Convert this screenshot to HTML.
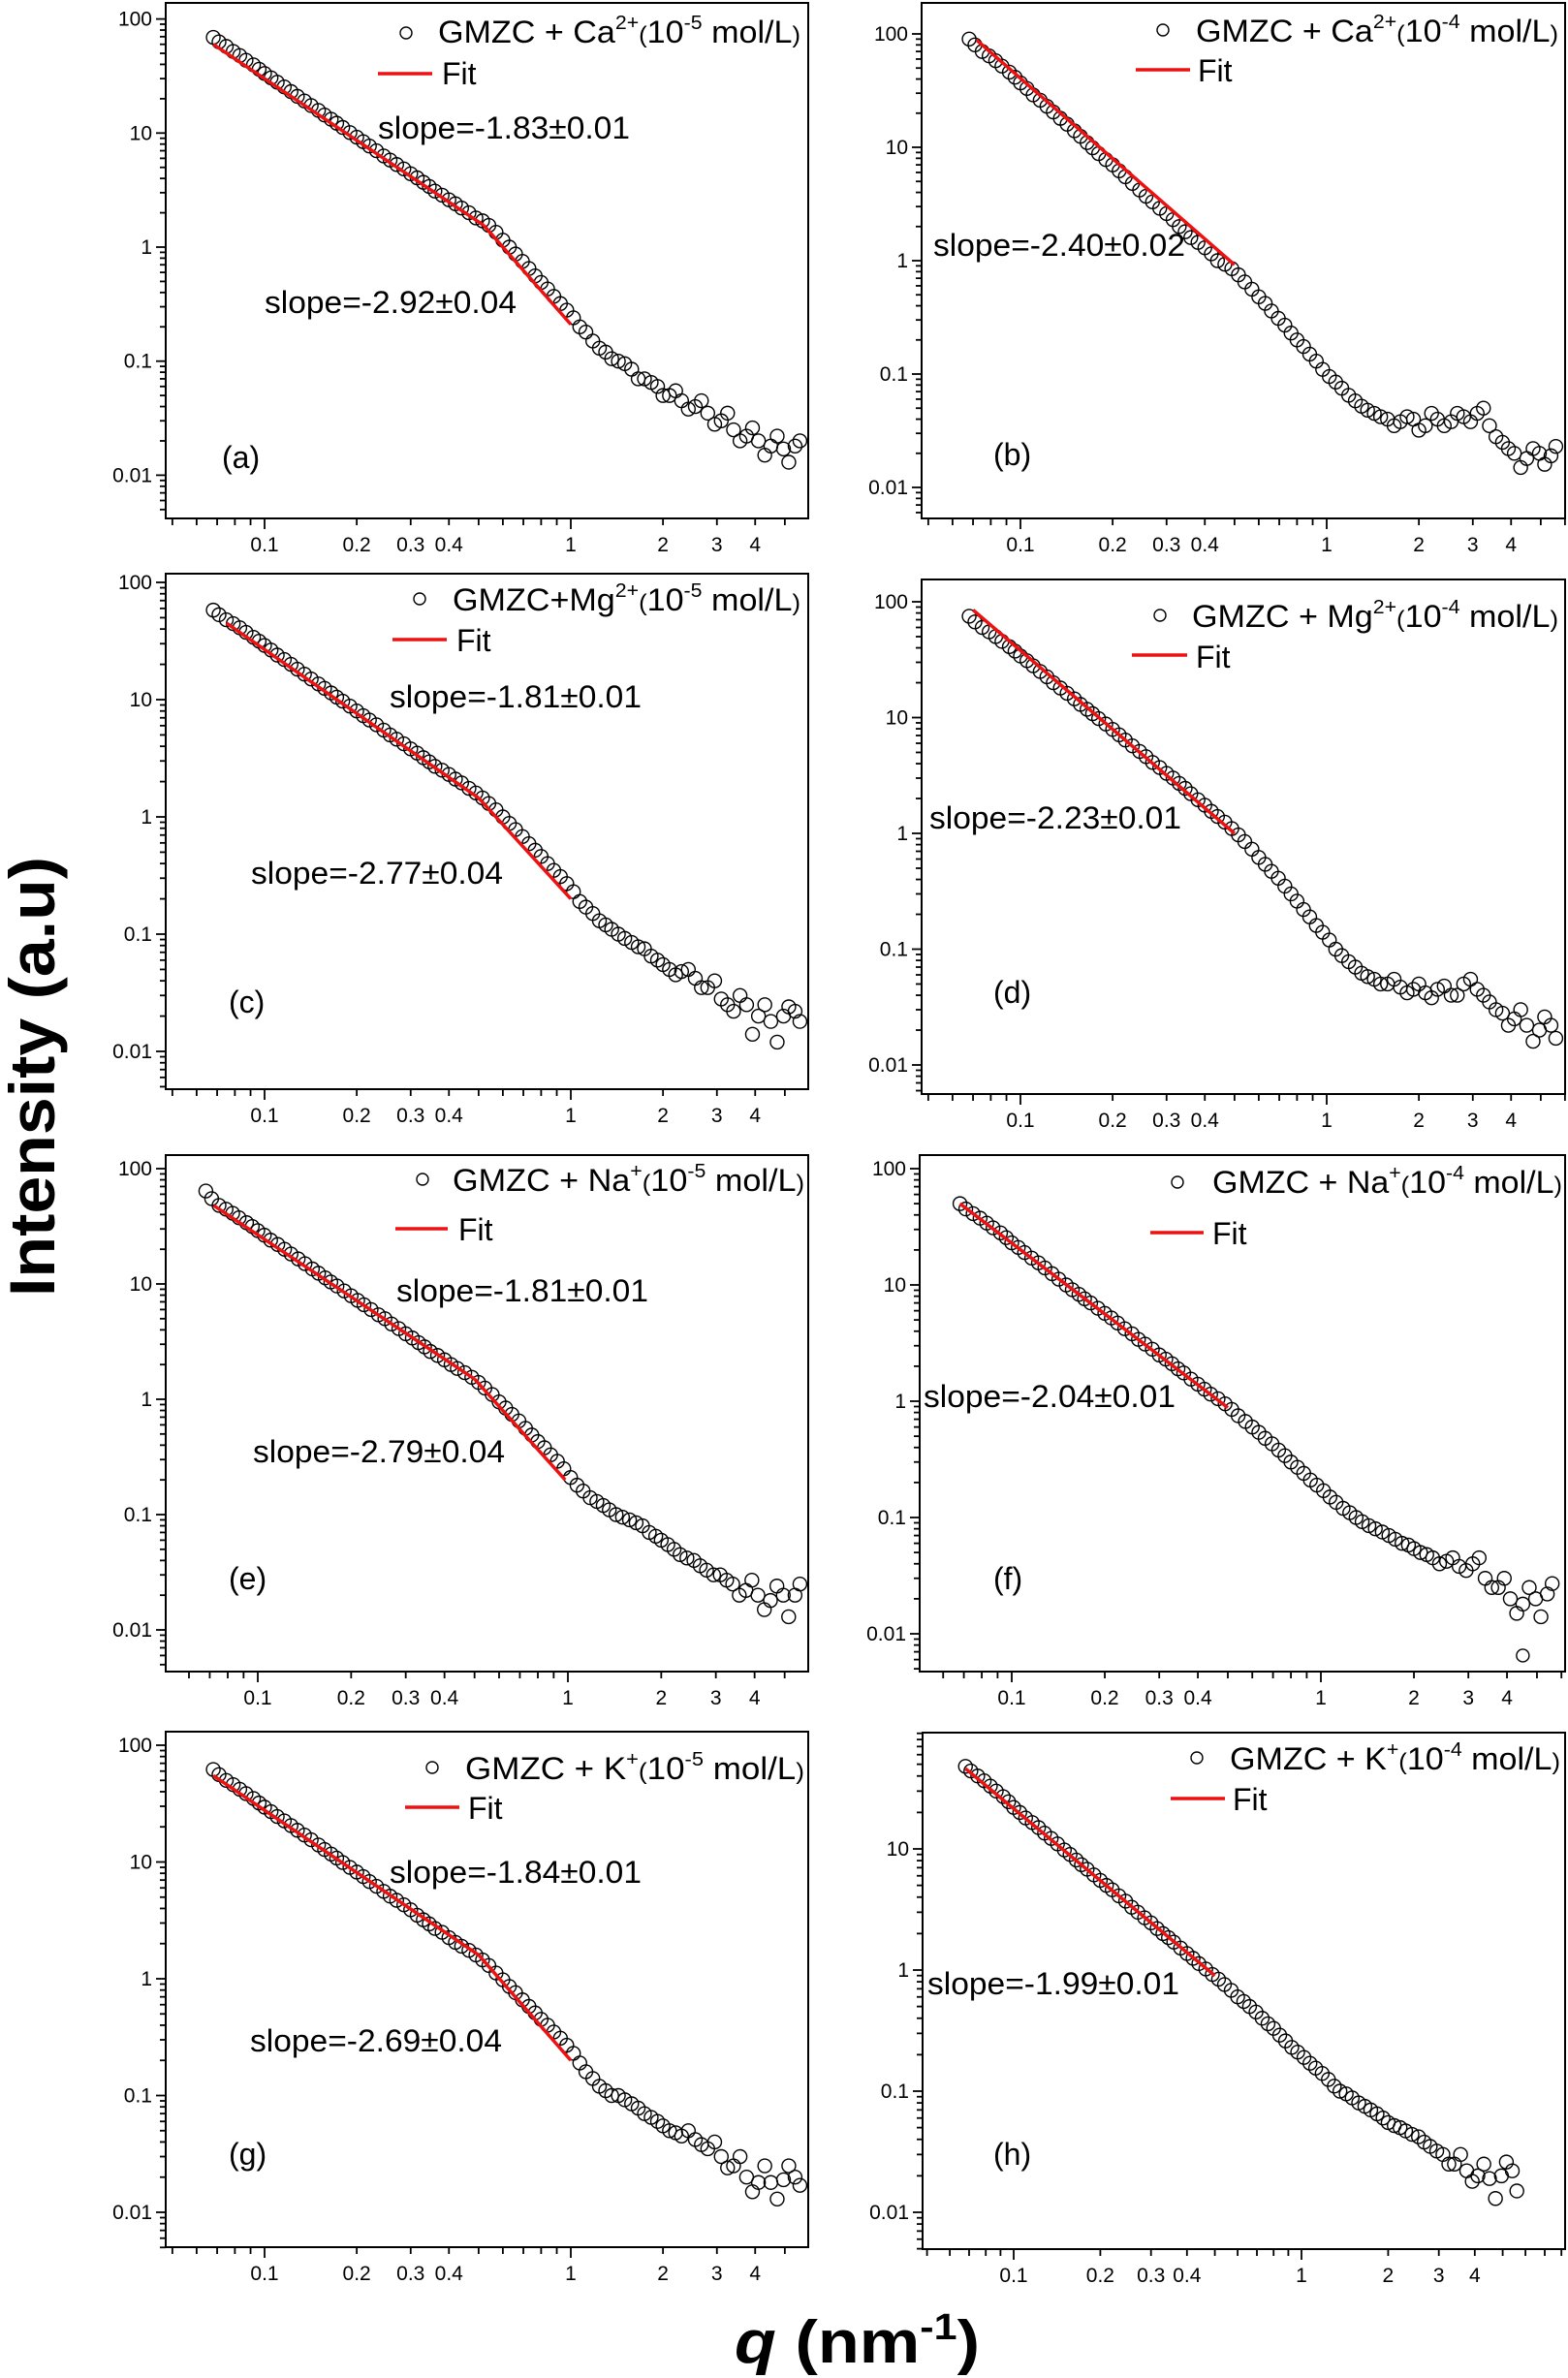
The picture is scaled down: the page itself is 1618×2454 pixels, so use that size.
<!DOCTYPE html>
<html><head><meta charset="utf-8">
<style>
html,body{margin:0;padding:0;background:#fff;}
svg{display:block;}
text{font-family:"Liberation Sans",sans-serif;fill:#000;}
</style></head>
<body>
<svg id="fig" width="1618" height="2454" viewBox="0 0 1618 2454" xmlns="http://www.w3.org/2000/svg">
<rect x="0" y="0" width="1618" height="2454" fill="#fff"/>
<text transform="translate(56,1111) rotate(-90)" text-anchor="middle" font-size="66" font-weight="bold" textLength="454" lengthAdjust="spacingAndGlyphs">Intensity (a.u)</text>
<text x="758" y="2438" font-size="62" font-weight="bold" textLength="253" lengthAdjust="spacingAndGlyphs"><tspan font-style="italic">q</tspan> (nm<tspan font-size="38" dy="-24">-1</tspan><tspan dy="24">)</tspan></text>
</svg>
<script>
// shared q grids (nm^-1)
const Q = [0.068,0.075,0.083,0.092,0.10,0.11,0.122,0.135,0.15,0.165,0.18,0.2,0.22,0.245,0.27,0.3,0.33,0.36,0.4,0.44,0.49,0.54,0.6,0.66,0.73,0.8,0.88,0.97,1.07,1.18,1.3,1.43,1.58,1.74,1.92,2.1,2.3,2.55,2.8,3.1,3.4,3.75,4.1,4.5,4.95,5.4];
const Q2 = [0.071,0.079,0.087,0.096,0.105,0.116,0.128,0.142,0.157,0.172,0.19,0.21,0.232,0.257,0.285,0.315,0.345,0.38,0.42,0.465,0.515,0.57,0.63,0.695,0.765,0.84,0.925,1.02,1.12,1.24,1.36,1.5,1.66,1.83,2.0,2.2,2.42,2.67,2.95,3.25,3.57,3.92,4.3,4.72,5.15,5.6];
const I_a = [69,57.5,47.8,39.6,33.3,27.9,23.1,19.1,15.8,13.2,11.2,9.2,7.7,6.3,5.3,4.4,3.7,3.1,2.6,2.2,1.8,1.55,1.15,0.87,0.65,0.49,0.37,0.28,0.2,0.15,0.12,0.1,0.085,0.07,0.06,0.05,0.045,0.04,0.035,0.03,0.025,0.022,0.02,0.018,0.017,0.018];
const I_b = [90,70,58,46,37,29,23,18,14,11,8.8,7,5.5,4.2,3.3,2.6,2.0,1.6,1.3,1.0,0.85,0.65,0.48,0.36,0.27,0.2,0.15,0.11,0.085,0.065,0.052,0.045,0.04,0.038,0.04,0.035,0.04,0.038,0.042,0.045,0.035,0.025,0.02,0.018,0.02,0.019];
const I_c = [58,48,41,34,29,24,20,16.5,13.6,11.4,9.7,8,6.7,5.5,4.6,3.8,3.2,2.7,2.3,1.95,1.6,1.3,1.0,0.78,0.59,0.46,0.35,0.27,0.19,0.15,0.12,0.1,0.085,0.075,0.06,0.05,0.048,0.042,0.035,0.028,0.022,0.025,0.02,0.018,0.02,0.022];
const I_d = [75,60,50,41,34,28,22.5,18,14.5,11.8,9.8,7.9,6.4,5.1,4.1,3.3,2.7,2.2,1.75,1.4,1.1,0.85,0.62,0.47,0.35,0.26,0.19,0.14,0.1,0.078,0.062,0.055,0.05,0.047,0.045,0.042,0.045,0.04,0.05,0.045,0.035,0.028,0.025,0.022,0.02,0.022];
const I_e = [64,48,41,34,29,24,20,16.5,13.5,11.3,9.6,7.9,6.6,5.4,4.5,3.7,3.1,2.6,2.2,1.85,1.55,1.25,0.95,0.74,0.56,0.43,0.33,0.25,0.18,0.14,0.12,0.1,0.09,0.08,0.065,0.055,0.045,0.04,0.033,0.03,0.025,0.022,0.02,0.018,0.02,0.02];
const I_f = [50,41,34,28,23,19,15.5,12.5,10,8.3,7,5.7,4.7,3.8,3.1,2.5,2.1,1.75,1.4,1.15,0.95,0.75,0.6,0.48,0.38,0.3,0.24,0.19,0.15,0.12,0.1,0.085,0.075,0.065,0.058,0.05,0.045,0.042,0.038,0.04,0.03,0.025,0.02,0.018,0.02,0.022];
const I_g = [62,50,42,35,29.5,24.5,20.5,17,14,11.7,9.9,8.2,6.8,5.6,4.7,3.9,3.2,2.7,2.25,1.9,1.6,1.3,0.98,0.76,0.58,0.45,0.35,0.27,0.19,0.14,0.11,0.1,0.085,0.07,0.06,0.05,0.045,0.042,0.035,0.03,0.025,0.02,0.018,0.018,0.019,0.02];
const I_h = [48,40,33,27,22,18,15,12.2,9.8,8.1,6.8,5.5,4.6,3.7,3.0,2.45,2.0,1.7,1.37,1.13,0.92,0.76,0.6,0.5,0.4,0.33,0.26,0.21,0.17,0.14,0.11,0.095,0.08,0.07,0.06,0.052,0.047,0.042,0.035,0.03,0.025,0.022,0.02,0.019,0.02,0.022];
const I2_a = [63,52,43.5,36.3,30.5,25.4,21,17.4,14.4,12.2,10.1,8.4,7,5.8,4.85,4.05,3.4,2.85,2.4,2.0,1.7,1.35,1.0,0.75,0.56,0.43,0.32,0.24,0.18,0.13,0.105,0.095,0.07,0.065,0.05,0.055,0.038,0.045,0.028,0.035,0.02,0.026,0.015,0.022,0.013,0.02];
const I2_b = [80,64,52,41.5,33,26,20.5,16,12.5,9.9,7.8,6.2,4.8,3.7,2.9,2.3,1.8,1.45,1.15,0.93,0.75,0.56,0.42,0.31,0.23,0.175,0.13,0.095,0.075,0.058,0.048,0.042,0.035,0.042,0.032,0.045,0.035,0.045,0.038,0.05,0.028,0.022,0.015,0.022,0.016,0.023];
const I2_c = [53,44.5,37.5,31.5,26.5,22,18.2,15,12.5,10.5,8.8,7.3,6.1,5.0,4.2,3.5,2.95,2.5,2.1,1.75,1.45,1.15,0.88,0.68,0.52,0.4,0.31,0.23,0.17,0.13,0.11,0.092,0.078,0.065,0.055,0.045,0.05,0.035,0.04,0.025,0.03,0.014,0.025,0.012,0.024,0.018];
const I2_d = [67,55,45.5,37.5,31,25,20,16.2,13,10.8,8.8,7.1,5.7,4.6,3.7,3,2.45,1.95,1.55,1.25,0.97,0.73,0.54,0.41,0.3,0.22,0.16,0.12,0.088,0.07,0.058,0.05,0.055,0.042,0.05,0.038,0.048,0.04,0.055,0.04,0.03,0.022,0.03,0.016,0.026,0.017];
const I2_e = [55,44.5,37.5,31.5,26.5,22,18.2,15,12.4,10.4,8.7,7.2,6,5,4.1,3.4,2.85,2.4,2.0,1.7,1.4,1.1,0.84,0.65,0.49,0.38,0.29,0.21,0.16,0.13,0.11,0.095,0.085,0.07,0.06,0.05,0.042,0.036,0.03,0.027,0.02,0.027,0.015,0.024,0.013,0.025];
const I2_f = [45,37.5,31,25.5,21,17,14,11.2,9.1,7.6,6.3,5.2,4.2,3.4,2.8,2.3,1.9,1.55,1.27,1.05,0.85,0.67,0.54,0.43,0.34,0.27,0.21,0.17,0.135,0.11,0.092,0.08,0.07,0.06,0.054,0.048,0.04,0.045,0.035,0.045,0.025,0.03,0.015,0.025,0.014,0.027];
const I2_g = [56,46,38.5,32,27,22.5,18.7,15.5,12.8,10.8,9,7.5,6.2,5.1,4.3,3.5,2.95,2.5,2.05,1.75,1.45,1.12,0.86,0.66,0.51,0.4,0.31,0.23,0.16,0.12,0.1,0.092,0.078,0.065,0.055,0.048,0.05,0.038,0.04,0.024,0.03,0.015,0.025,0.013,0.025,0.017];
const I2_h = [44,36.5,30,24.5,20,16.5,13.5,11,9,7.4,6.1,5,4.1,3.3,2.7,2.2,1.85,1.52,1.25,1.02,0.84,0.68,0.55,0.45,0.36,0.29,0.23,0.19,0.155,0.125,0.1,0.088,0.075,0.065,0.055,0.05,0.044,0.038,0.032,0.025,0.03,0.018,0.025,0.013,0.026,0.015];
// fit segments: [q0, I0, q1, I1]
const FIT_a = [[0.068,60,0.52,1.55],[0.52,1.55,1.0,0.21]];
const FIT_b = [[0.072,88,0.5,0.92]];
const FIT_c = [[0.075,45,0.5,1.45],[0.5,1.45,1.0,0.2]];
const FIT_d = [[0.07,85,0.5,1.0]];
const FIT_e = [[0.072,48,0.5,1.5],[0.5,1.5,0.98,0.2]];
const FIT_f = [[0.068,50,0.5,0.88]];
const FIT_g = [[0.068,55,0.5,1.6],[0.5,1.6,1.0,0.2]];
const FIT_h = [[0.068,46,0.5,0.9]];
const XTICKS = [0.1,0.2,0.3,0.4,1,2,3,4];
const XTICK_LABELS = ["0.1","0.2","0.3","0.4","1","2","3","4"];
const YTICKS = [0.01,0.1,1,10,100];
const YTICK_LABELS = ["0.01","0.1","1","10","100"];

const svg = document.getElementById('fig');
const NS = 'http://www.w3.org/2000/svg';
function mk(tag, attrs, parent){const e=document.createElementNS(NS,tag);for(const k in attrs)e.setAttribute(k,attrs[k]);(parent||svg).appendChild(e);return e;}

const panels = [
 {id:'a',I:I_a,I2:I2_a,F:FIT_a,fx0:171,fx1:834,fy0:3,fy1:535,x01:273,x1:589,y1:255,yd:117.7,
  leg:{cx:419,cy:34,tx:452,tb:44,tw:374,ion:'Ca',ch:'2+',ex:'-5',sp:' + '},fit:{x0:390,x1:446,y:76,tx:456,tb:87},
  s:[['slope=-1.83±0.01',390,143],['slope=-2.92±0.04',273,323]],lab:[229,483]},
 {id:'b',I:I_b,I2:I2_b,F:FIT_b,fx0:951,fx1:1615,fy0:3,fy1:535,x01:1053,x1:1369,y1:269,yd:117,
  leg:{cx:1200,cy:31,tx:1234,tb:43,tw:374,ion:'Ca',ch:'2+',ex:'-4',sp:' + '},fit:{x0:1172,x1:1228,y:72,tx:1236,tb:84},
  s:[['slope=-2.40±0.02',963,264]],lab:[1025,480]},
 {id:'c',I:I_c,I2:I2_c,F:FIT_c,fx0:171,fx1:834,fy0:592,fy1:1124,x01:273,x1:589,y1:843,yd:121,
  leg:{cx:433,cy:618,tx:467,tb:630,tw:359,ion:'Mg',ch:'2+',ex:'-5',sp:'+'},fit:{x0:405,x1:461,y:660,tx:471,tb:672},
  s:[['slope=-1.81±0.01',402,730],['slope=-2.77±0.04',259,912]],lab:[236,1045]},
 {id:'d',I:I_d,I2:I2_d,F:FIT_d,fx0:951,fx1:1615,fy0:598,fy1:1129,x01:1053,x1:1369,y1:860,yd:119.5,
  leg:{cx:1197,cy:635,tx:1230,tb:647,tw:378,ion:'Mg',ch:'2+',ex:'-4',sp:' + '},fit:{x0:1168,x1:1225,y:676,tx:1234,tb:689},
  s:[['slope=-2.23±0.01',959,855]],lab:[1025,1035]},
 {id:'e',I:I_e,I2:I2_e,F:FIT_e,fx0:171,fx1:834,fy0:1192,fy1:1725,x01:266,x1:586,y1:1444,yd:119,
  leg:{cx:436,cy:1217,tx:467,tb:1229,tw:363,ion:'Na',ch:'+',ex:'-5',sp:' + '},fit:{x0:408,x1:462,y:1268,tx:473,tb:1280},
  s:[['slope=-1.81±0.01',409,1343],['slope=-2.79±0.04',261,1509]],lab:[236,1640]},
 {id:'f',I:I_f,I2:I2_f,F:FIT_f,fx0:949,fx1:1615,fy0:1192,fy1:1725,x01:1044,x1:1363,y1:1446,yd:120,
  leg:{cx:1215,cy:1220,tx:1251,tb:1231,tw:361,ion:'Na',ch:'+',ex:'-4',sp:' + '},fit:{x0:1187,x1:1242,y:1272,tx:1251,tb:1284},
  s:[['slope=-2.04±0.01',953,1452]],lab:[1025,1640],out:[4.5,0.0065]},
 {id:'g',I:I_g,I2:I2_g,F:FIT_g,fx0:171,fx1:834,fy0:1787,fy1:2319,x01:273,x1:589,y1:2042,yd:120.5,
  leg:{cx:446,cy:1824,tx:480,tb:1836,tw:350,ion:'K',ch:'+',ex:'-5',sp:' + '},fit:{x0:418,x1:474,y:1865,tx:483,tb:1877},
  s:[['slope=-1.84±0.01',402,1943],['slope=-2.69±0.04',258,2117]],lab:[236,2234]},
 {id:'h',I:I_h,I2:I2_h,F:FIT_h,fx0:952,fx1:1615,fy0:1788,fy1:2321,x01:1046,x1:1343,y1:2033,yd:125,
  leg:{cx:1235,cy:1814,tx:1269,tb:1826,tw:341,ion:'K',ch:'+',ex:'-4',sp:' + '},fit:{x0:1208,x1:1264,y:1856,tx:1272,tb:1868},
  s:[['slope=-1.99±0.01',957,2058]],lab:[1025,2234]}
];

panels.forEach(p=>{
  const g = mk('g',{});
  
  
  const dec = p.x1-p.x01;
  const X = q => p.x1 + Math.log10(q)*dec;
  const Y = v => p.y1 - Math.log10(v)*p.yd;
  const clip = 'clip-'+p.id;
  const cp = mk('clipPath',{id:clip},g); mk('rect',{x:p.fx0,y:p.fy0,width:p.fx1-p.fx0,height:p.fy1-p.fy0},cp);
  const xa = mk('g',{},g);
  
  
  for(let e=-2;e<=1;e++){for(let m=1;m<=9;m++){const q=m*Math.pow(10,e);const x=X(q);if(x<p.fx0-0.5||x>p.fx1+0.5)continue;
    mk('line',{x1:x,x2:x,y1:p.fy1,y2:p.fy1+(m===1?11:7),stroke:'#000','stroke-width':1.8},xa);}}
  XTICKS.forEach((q,i)=>{const t=mk('text',{x:X(q),y:p.fy1+34,'text-anchor':'middle','font-size':21},xa);t.textContent=XTICK_LABELS[i];
    
    });
  const ya = mk('g',{},g);
  
  
  for(let e=-3;e<=2;e++){for(let m=1;m<=9;m++){const v=m*Math.pow(10,e);const y=Y(v);if(y<p.fy0-0.5||y>p.fy1+0.5)continue;
    mk('line',{x1:p.fx0,x2:p.fx0-(m===1?10:6),y1:y,y2:y,stroke:'#000','stroke-width':1.8},ya);}}
  YTICKS.forEach((v,i)=>{const y=Y(v);if(y<p.fy0||y>p.fy1)return;const t=mk('text',{x:p.fx0-14,y:y+7,'text-anchor':'end','font-size':21},ya);t.textContent=YTICK_LABELS[i];
    
    });
  const dg = mk('g',{'clip-path':'url(#'+clip+')'},g);
  
  
  Q.forEach((q,i)=>{const c=mk('circle',{cx:X(q),cy:Y(p.I[i]),r:7,fill:'none',stroke:'#000','stroke-width':1.4},dg);
    
    });
  Q2.forEach((q,i)=>{const c=mk('circle',{cx:X(q),cy:Y(p.I2[i]),r:7,fill:'none',stroke:'#000','stroke-width':1.4},dg);
    
    });
  if(p.out){const c=mk('circle',{cx:X(p.out[0]),cy:Y(p.out[1]),r:6.5,fill:'none',stroke:'#000','stroke-width':1.4},dg);
    
    }
  p.F.forEach(f=>{const l=mk('line',{x1:X(f[0]),y1:Y(f[1]),x2:X(f[2]),y2:Y(f[3]),stroke:'#ee1111','stroke-width':3.5},g);
    
    });
  const fr = mk('rect',{x:p.fx0,y:p.fy0,width:p.fx1-p.fx0,height:p.fy1-p.fy0,fill:'none',stroke:'#000','stroke-width':2},g);
  
  
  const L=p.leg;
  const lg = mk('g',{},g);
  
  
  mk('circle',{cx:L.cx,cy:L.cy,r:6,fill:'none',stroke:'#000','stroke-width':1.4},lg);
  const lt=mk('text',{x:L.tx,y:L.tb,'font-size':32,textLength:L.tw,lengthAdjust:'spacingAndGlyphs'},lg);
  lt.innerHTML='GMZC'+L.sp+L.ion+'<tspan font-size="20" dy="-14">'+L.ch+'</tspan><tspan font-size="24" dy="14">(</tspan>10<tspan font-size="20" dy="-14">'+L.ex+'</tspan><tspan dy="14"> mol/L</tspan><tspan font-size="24">)</tspan>';
  
  
  mk('line',{x1:p.fit.x0,x2:p.fit.x1,y1:p.fit.y,y2:p.fit.y,stroke:'#ee1111','stroke-width':3.5},lg);
  const ft=mk('text',{x:p.fit.tx,y:p.fit.tb,'font-size':32},lg); ft.textContent='Fit';
  
  
  p.s.forEach(s=>{const t=mk('text',{x:s[1],y:s[2],'font-size':32,textLength:260,lengthAdjust:'spacingAndGlyphs'},g);t.textContent=s[0];
    
    });
  const pl=mk('text',{x:p.lab[0],y:p.lab[1],'font-size':32},g); pl.textContent='('+p.id+')';
  
  
});
</script>
</body></html>
